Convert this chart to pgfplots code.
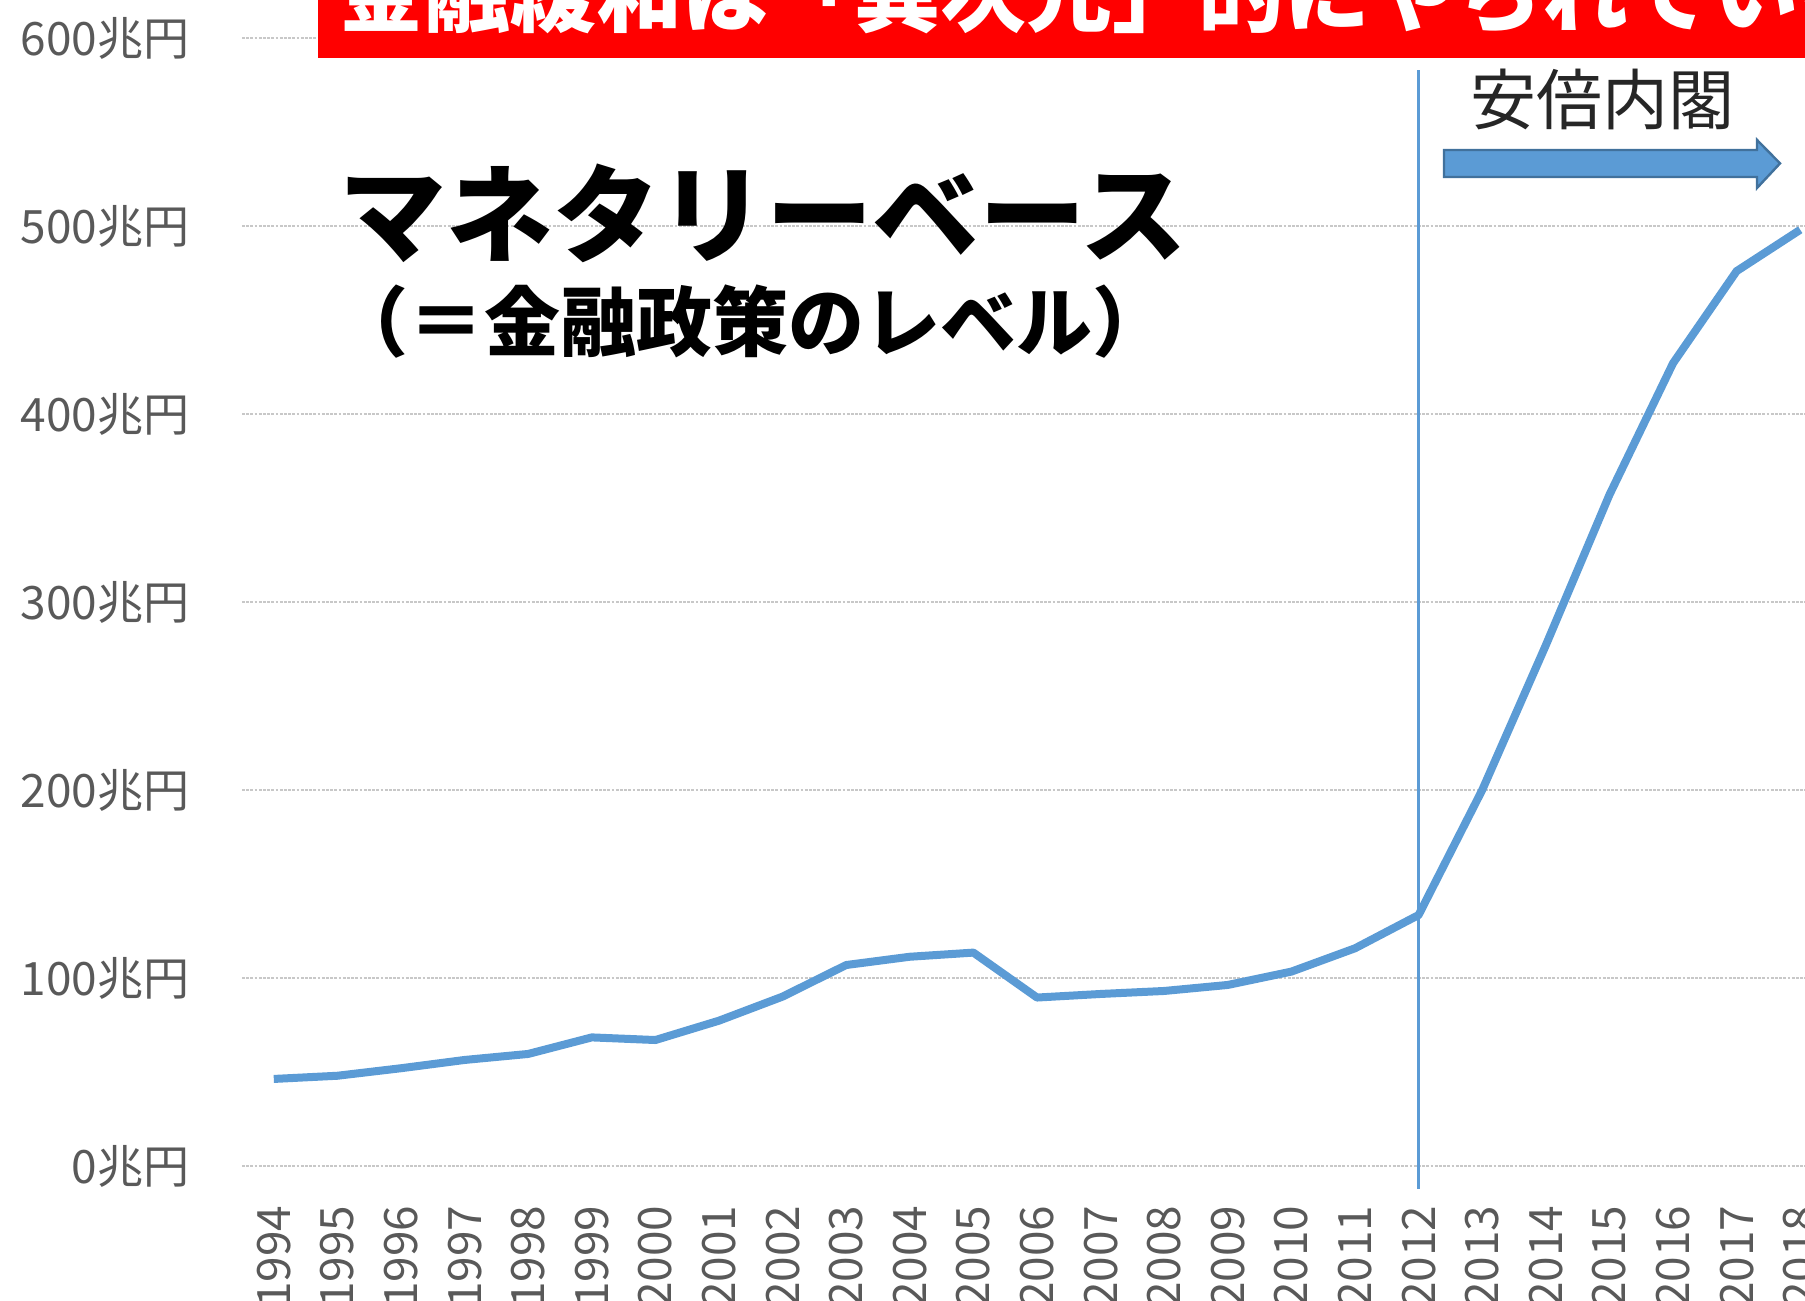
\documentclass[border=0pt]{standalone}
\usepackage{fontspec}
\usepackage{pgfplots}
\pgfplotsset{compat=1.18}
\newfontfamily\cjk{Noto Sans CJK JP}
\definecolor{lineblue}{HTML}{5B9BD5}
\definecolor{arrowedge}{HTML}{41719C}
\definecolor{labelgray}{HTML}{595959}
\definecolor{gridgray}{HTML}{C8C8C8}
\definecolor{bannerred}{HTML}{FF0000}
\begin{document}
\begin{tikzpicture}
\useasboundingbox (0,0) rectangle (451.25pt,325.25pt);
\clip (0,0) rectangle (451.25pt,325.25pt);
\begin{axis}[
  at={(60.5pt,33.75pt)}, anchor=south west,
  scale only axis, width=397.5pt, height=282pt,
  xmin=1993.5, xmax=2018.5, ymin=0, ymax=600,
  xtick={1994,1995,1996,1997,1998,1999,2000,2001,2002,2003,2004,2005,2006,2007,2008,2009,2010,2011,2012,2013,2014,2015,2016,2017,2018},
  xticklabels={1994,1995,1996,1997,1998,1999,2000,2001,2002,2003,2004,2005,2006,2007,2008,2009,2010,2011,2012,2013,2014,2015,2016,2017,2018},
  ytick={0,100,200,300,400,500,600},
  yticklabels={0兆円,100兆円,200兆円,300兆円,400兆円,500兆円,600兆円},
  axis line style={draw=none}, major tick length=0pt,
  ymajorgrids, grid style={gridgray, line width=0.7pt, dash pattern=on 0.7pt off 0.35pt},
  yticklabel style={font=\cjk\fontsize{11.5}{12}\selectfont, text=labelgray, anchor=east, inner sep=0pt, xshift=-13pt},
  xticklabel style={font=\cjk\fontsize{11.5}{12}\selectfont, text=labelgray, yshift=-9.75pt, rotate=90, anchor=east, inner sep=0pt},
  clip=false,
]
\addplot[lineblue, line width=2pt, line join=round] coordinates {
(1994,46.3) (1995,48.0) (1996,52.0) (1997,56.4) (1998,59.6) (1999,68.4)
(2000,67.0) (2001,77.3) (2002,90.1) (2003,106.9) (2004,111.3) (2005,113.5)
(2006,89.6) (2007,91.5) (2008,93.1) (2009,96.3) (2010,103.4) (2011,115.8)
(2012,133.5) (2013,200) (2014,277) (2015,357) (2016,427) (2017,476) (2018,498)
};
\draw[lineblue, line width=0.8pt] (axis cs:2012,-12) -- (axis cs:2012,583);
\end{axis}
% banner
\fill[bannerred] (79.5pt,310.75pt) rectangle (470pt,340pt);
\node[anchor=base west, inner sep=0pt, text=white, font=\cjk\bfseries\fontsize{21.5}{22}\selectfont] at (84.5pt,318.75pt) {金融緩和は「異次元」的にやられている};
% title
\node[anchor=base west, inner sep=0pt, text=black, font=\cjk\bfseries\fontsize{26.65}{27}\selectfont] at (84.75pt,261.5pt) {マネタリーベース};
\node[anchor=base west, inner sep=0pt, text=black, font=\cjk\bfseries\fontsize{19}{20}\selectfont] at (83pt,237.5pt) {（＝金融政策のレベル）};
% Abe cabinet
\node[anchor=base, inner sep=0pt, text=black!85, font=\cjk\fontsize{16.5}{17}\selectfont] at (400.5pt,294pt) {安倍内閣};
\filldraw[fill=lineblue, draw=arrowedge, line width=0.6pt]
  (361pt,281pt) -- (439.25pt,281pt) -- (439.25pt,278.25pt) -- (445pt,284.4pt)
  -- (439.25pt,290.25pt) -- (439.25pt,287.75pt) -- (361pt,287.75pt) -- cycle;
\end{tikzpicture}
\end{document}
